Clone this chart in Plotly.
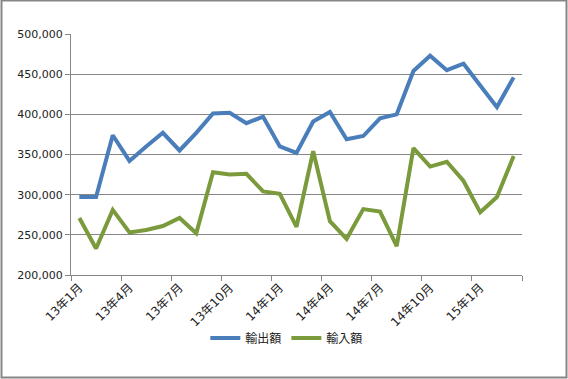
import plotly.graph_objects as go

months = []
for y, ms in ((13, range(1, 13)), (14, range(1, 13)), (15, range(1, 4))):
    for m in ms:
        months.append(f"{y}年{m}月")

exports = [297000, 297000, 374000, 342000, 360000, 377000, 355000, 377000, 401000, 402000,
           389000, 397000, 360000, 352000, 391000, 403000, 369000, 373000, 395000, 400000,
           454000, 473000, 455000, 463000, 436000, 409000, 446000]
imports = [271000, 233000, 281000, 253000, 256000, 261000, 271000, 252000, 328000, 325000,
           326000, 304000, 301000, 260000, 354000, 267000, 245000, 282000, 279000, 236000,
           358000, 335000, 341000, 317000, 278000, 297000, 348000]

series_names = ["輸出額", "輸入額"]
colors = ["#4A7EBB", "#7A9A3C"]

xidx = list(range(len(months)))
tick_every = 3
tickvals = xidx[::tick_every]
ticktext = months[::tick_every]

fig = go.Figure()
for name, vals, c in zip(series_names, [exports, imports], colors):
    fig.add_trace(go.Scatter(x=xidx, y=vals, mode="lines", name=name,
                             line=dict(color=c, width=4)))

W, H = 568, 379
ml, mr, mt, mb = 71, 46, 34, 104
pw, ph = W - ml - mr, H - mt - mb

fig.update_layout(
    width=W, height=H,
    margin=dict(l=ml, r=mr, t=mt, b=mb, autoexpand=False),
    paper_bgcolor="white", plot_bgcolor="white",
    font=dict(family="DejaVu Sans, Noto Sans CJK JP", size=11, color="#222222"),
    showlegend=True,
    legend=dict(orientation="h", xref="container", yref="container",
                x=0.505, y=0.108, xanchor="center", yanchor="middle",
                font=dict(family="Noto Sans CJK JP", size=12, color="#222222"),
                itemwidth=30, tracegroupgap=0),
    xaxis=dict(range=[-0.5, len(months) - 0.5], tickvals=tickvals, ticktext=ticktext,
               tickangle=-45, ticks="", showgrid=False, zeroline=False,
               showline=True, linecolor="#868686", linewidth=1, automargin=False,
               tickfont=dict(family="DejaVu Sans, Noto Sans CJK JP", size=12),
               minor=dict(ticks="outside", tick0=-0.5, dtick=3, ticklen=5,
                          tickcolor="#868686", showgrid=False)),
    yaxis=dict(range=[200000, 500000], dtick=50000, tickformat=",d",
               showgrid=True, gridcolor="#868686", gridwidth=1, automargin=False,
               showline=True, linecolor="#868686", linewidth=1,
               ticks="outside", ticklen=5, tickcolor="#868686", zeroline=False),
)

# outer chart border
fig.add_shape(type="rect", xref="paper", yref="paper",
              x0=(1.5 - ml) / pw, x1=(W - 1.5 - ml) / pw,
              y0=-(H - 1.5 - mt - ph) / ph, y1=1 + (mt - 0.5) / ph,
              line=dict(color="#868686", width=2), layer="below")

fig.write_html("out.html", config={"displayModeBar": False},
               post_script="document.body.style.margin='0';")
